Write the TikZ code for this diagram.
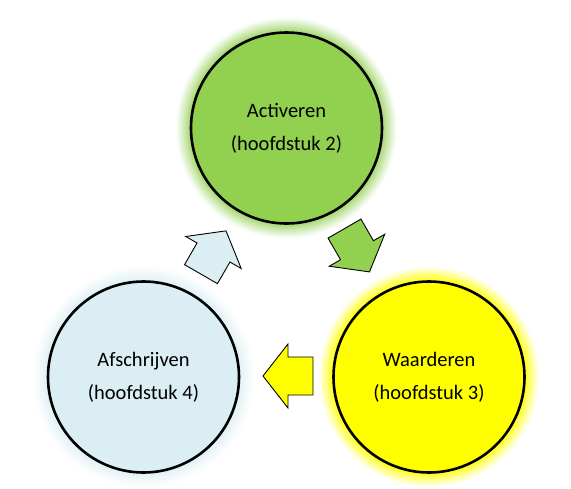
\documentclass[tikz,border=0pt]{standalone}
\usepackage{fontspec}
\setmainfont{Carlito}
\definecolor{cgreen}{HTML}{92D050}
\definecolor{cyellow}{HTML}{FFFF00}
\definecolor{cblue}{HTML}{DAEEF3}
\tikzset{
  stage/.style={circle, draw=black, line width=2.6pt, minimum size=191pt, inner sep=0pt, align=center, font=\fontsize{20.5}{33}\selectfont},
  blockarrow/.style={draw=black, line width=0.9pt, line join=miter},
}
\newcommand{\glowring}[4]{%
  \foreach \k in {15,14,...,1}{
    \pgfmathtruncatemacro{\glowp}{#4*((16-\k)/16)^1.1}
    \pgfmathsetmacro{\glowr}{95.5+\k}
    \fill[#3!\glowp!white] (#1,#2) circle [radius=\glowr pt];
  }
}
\newcommand{\blockarr}[5]{%
  \begin{scope}[shift={(#2,#3)}, rotate=#4]
    \draw[blockarrow, fill=#5] (25,0) coordinate (#1) -- (0,32) -- (0,19) -- (-25,19) -- (-25,-19) -- (0,-19) -- (0,-32) -- cycle;
  \end{scope}}
\begin{document}
\begin{tikzpicture}[x=1pt,y=-1pt]
\useasboundingbox (0,0) rectangle (571,488);
\fill[white] (0,0) rectangle (571,488);
\glowring{286.5}{128}{cgreen}{90}
\glowring{429}{377}{cyellow}{100}
\glowring{143.5}{377}{cblue}{90}
\node[stage, fill=cgreen] (act) at (286.5,128) {Activeren\\(hoofdstuk 2)};
\node[stage, fill=cyellow] (waa) at (429,377) {Waarderen\\(hoofdstuk 3)};
\node[stage, fill=cblue] (afs) at (143.5,377) {Afschrijven\\(hoofdstuk 4)};
\blockarr{arrA}{213.5}{252.5}{60}{cblue}
\blockarr{arrB}{357}{250.25}{-60}{cgreen}
\blockarr{arrC}{288}{376}{180}{cyellow}
\end{tikzpicture}
\end{document}
